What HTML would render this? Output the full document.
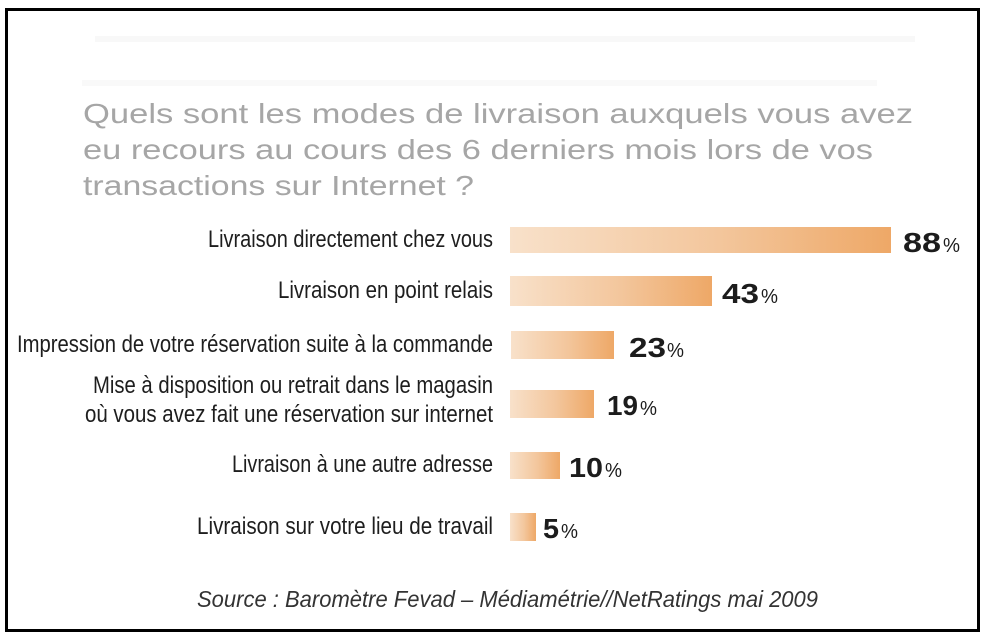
<!DOCTYPE html>
<html>
<head>
<meta charset="utf-8">
<style>
  html, body { margin: 0; padding: 0; background: #ffffff; }
  body { width: 986px; height: 640px; overflow: hidden; }
  svg { display: block; }
  .title { font-family: "Liberation Sans", sans-serif; font-size: 28px; fill: #a6a6a6; }
  .lbl { font-family: "Liberation Sans Narrow", "Liberation Sans", sans-serif; font-size: 24px; fill: #1e1e1e; }
  .num { font-family: "Liberation Sans", sans-serif; font-size: 28px; font-weight: bold; fill: #1c1c1c; }
  .pct { font-family: "Liberation Sans", sans-serif; font-size: 20px; fill: #1c1c1c; }
  .src { font-family: "Liberation Sans Narrow", "Liberation Sans", sans-serif; font-size: 23px; font-style: italic; fill: #333333; }
</style>
</head>
<body>
<svg width="986" height="640" viewBox="0 0 986 640" xmlns="http://www.w3.org/2000/svg">
  <defs>
    <linearGradient id="g" x1="0" y1="0" x2="1" y2="0">
      <stop offset="0" stop-color="#f8e1ca"/>
      <stop offset="0.55" stop-color="#f3c69c"/>
      <stop offset="1" stop-color="#eea867"/>
    </linearGradient>
  </defs>
  <rect x="0" y="0" width="986" height="640" fill="#ffffff"/>
  <rect x="6.5" y="9.5" width="972" height="621" fill="#ffffff" stroke="#000000" stroke-width="3"/>

  <!-- faint ghost rows -->
  <rect x="95" y="36" width="820" height="6" fill="#f8f8f8"/>
  <rect x="82" y="80" width="795" height="6" fill="#f9f9f9"/>

  <!-- title -->
  <text class="title" x="83" y="123" textLength="830" lengthAdjust="spacingAndGlyphs">Quels sont les modes de livraison auxquels vous avez</text>
  <text class="title" x="83" y="159" textLength="790" lengthAdjust="spacingAndGlyphs">eu recours au cours des 6 derniers mois lors de vos</text>
  <text class="title" x="83" y="195" textLength="391" lengthAdjust="spacingAndGlyphs">transactions sur Internet ?</text>

  <!-- bars -->
  <rect x="510" y="227" width="381" height="26" fill="url(#g)"/>
  <rect x="510" y="276" width="202" height="30" fill="url(#g)"/>
  <rect x="511" y="331" width="103" height="28" fill="url(#g)"/>
  <rect x="510" y="390" width="84" height="28" fill="url(#g)"/>
  <rect x="510" y="452" width="50" height="27" fill="url(#g)"/>
  <rect x="510" y="513" width="26" height="28" fill="url(#g)"/>

  <!-- labels -->
  <text class="lbl" x="208" y="247" textLength="285" lengthAdjust="spacingAndGlyphs">Livraison directement chez vous</text>
  <text class="lbl" x="278" y="298" textLength="215" lengthAdjust="spacingAndGlyphs">Livraison en point relais</text>
  <text class="lbl" x="17" y="352" textLength="476" lengthAdjust="spacingAndGlyphs">Impression de votre réservation suite à la commande</text>
  <text class="lbl" x="93" y="393" textLength="400" lengthAdjust="spacingAndGlyphs">Mise à disposition ou retrait dans le magasin</text>
  <text class="lbl" x="85" y="422" textLength="408" lengthAdjust="spacingAndGlyphs">où vous avez fait une réservation sur internet</text>
  <text class="lbl" x="232" y="472" textLength="261" lengthAdjust="spacingAndGlyphs">Livraison à une autre adresse</text>
  <text class="lbl" x="197" y="534" textLength="296" lengthAdjust="spacingAndGlyphs">Livraison sur votre lieu de travail</text>

  <!-- values -->
  <text class="num" x="903" y="252" textLength="38" lengthAdjust="spacingAndGlyphs">88</text>
  <text class="pct" x="943" y="252" textLength="17" lengthAdjust="spacingAndGlyphs">%</text>

  <text class="num" x="722" y="303" textLength="37" lengthAdjust="spacingAndGlyphs">43</text>
  <text class="pct" x="761" y="303" textLength="17" lengthAdjust="spacingAndGlyphs">%</text>

  <text class="num" x="629" y="357" textLength="37" lengthAdjust="spacingAndGlyphs">23</text>
  <text class="pct" x="667" y="357" textLength="17" lengthAdjust="spacingAndGlyphs">%</text>

  <text class="num" x="607" y="415" textLength="31" lengthAdjust="spacingAndGlyphs">19</text>
  <text class="pct" x="640" y="415" textLength="17" lengthAdjust="spacingAndGlyphs">%</text>

  <text class="num" x="569" y="477" textLength="34" lengthAdjust="spacingAndGlyphs">10</text>
  <text class="pct" x="605" y="477" textLength="17" lengthAdjust="spacingAndGlyphs">%</text>

  <text class="num" x="543" y="538" textLength="16" lengthAdjust="spacingAndGlyphs">5</text>
  <text class="pct" x="561" y="538" textLength="17" lengthAdjust="spacingAndGlyphs">%</text>

  <!-- source -->
  <text class="src" x="197" y="607" textLength="621" lengthAdjust="spacingAndGlyphs">Source : Baromètre Fevad – Médiamétrie//NetRatings mai 2009</text>
</svg>
</body>
</html>
